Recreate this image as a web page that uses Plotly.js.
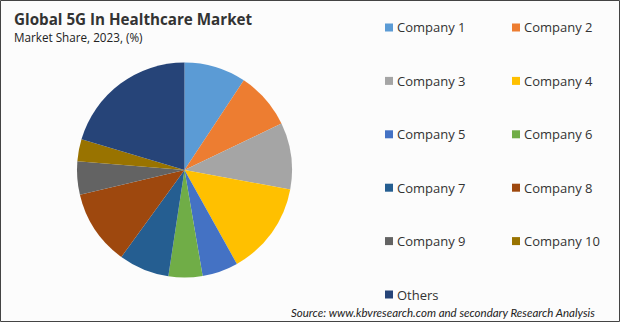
<!DOCTYPE html>
<html>
<head>
<meta charset="utf-8">
<script src="https://cdn.plot.ly/plotly-3.0.1.min.js"></script>
<style>html,body{margin:0;padding:0;background:#fcfcfc;}#chart{width:620px;height:322px;}</style>
</head>
<body>
<div id="chart"></div>
<script>
const companies = ["Company 1","Company 2","Company 3","Company 4","Company 5","Company 6","Company 7","Company 8","Company 9","Company 10","Others"];
const shares = [9.3, 8.6, 10.0, 14.0, 5.4, 5.1, 7.6, 11.3, 5.0, 3.3, 20.4];
const colors = ["#5B9BD5","#ED7D31","#A5A5A5","#FFC000","#4472C4","#70AD47","#255E91","#9E480E","#636363","#997300","#264478"];

const W = 620, H = 322;
const fontFam = "'Open Sans', 'Noto Sans', sans-serif";

// custom two-column legend built from the arrays
const shapes = [];
const annotations = [];
const colX = [385, 512];
const rowY0 = 27.5, rowGap = 53.4, sq = 8;
companies.forEach((name, i) => {
  const col = i % 2, row = Math.floor(i / 2);
  const x = colX[col], y = rowY0 + row * rowGap;
  shapes.push({type:"rect", xref:"paper", yref:"paper",
    x0: x / W, x1: (x + sq) / W, y0: 1 - (y + sq/2) / H, y1: 1 - (y - sq/2) / H,
    fillcolor: colors[i], line:{width:0}});
  annotations.push({xref:"paper", yref:"paper", x:(x + sq + 2) / W, y: 1 - y / H,
    xanchor:"left", yanchor:"middle", text:name, showarrow:false,
    font:{family:fontFam, size:13, color:"#333"}});
});

annotations.push({xref:"paper", yref:"paper", x:12/W, y:1-19/H, xanchor:"left", yanchor:"middle",
  text:"<b>Global 5G In Healthcare Market</b>", showarrow:false,
  font:{family:fontFam, size:15.2, color:"#333"}});
annotations.push({xref:"paper", yref:"paper", x:12/W, y:1-37/H, xanchor:"left", yanchor:"middle",
  text:"Market Share, 2023, (%)", showarrow:false,
  font:{family:fontFam, size:11.7, color:"#222"}});
annotations.push({xref:"paper", yref:"paper", x:597/W, y:1-312/H, xanchor:"right", yanchor:"middle",
  text:"<i>Source: www.kbvresearch.com and secondary Research Analysis</i>", showarrow:false,
  font:{family:"Lato, 'Open Sans', sans-serif", size:11.5, color:"#222"}});

shapes.push({type:"rect", xref:"paper", yref:"paper", x0:0.5/W, x1:1-0.5/W, y0:0.5/H, y1:1-0.5/H,
  line:{color:"#444", width:1}, fillcolor:"rgba(0,0,0,0)"});

const trace = {
  type:"pie",
  labels: companies,
  values: shares,
  sort:false,
  direction:"clockwise",
  rotation:0,
  textinfo:"none",
  hoverinfo:"label+percent",
  marker:{colors: colors, line:{width:0}},
  domain:{x:[77/W, 292/W], y:[1-277.5/H, 1-62.5/H]},
  showlegend:false
};

const layout = {
  width:W, height:H,
  margin:{l:0, r:0, t:0, b:0},
  paper_bgcolor:"#fcfcfc",
  showlegend:false,
  shapes: shapes,
  annotations: annotations
};

Plotly.newPlot("chart", [trace], layout, {displayModeBar:false, staticPlot:true});
</script>
</body>
</html>
